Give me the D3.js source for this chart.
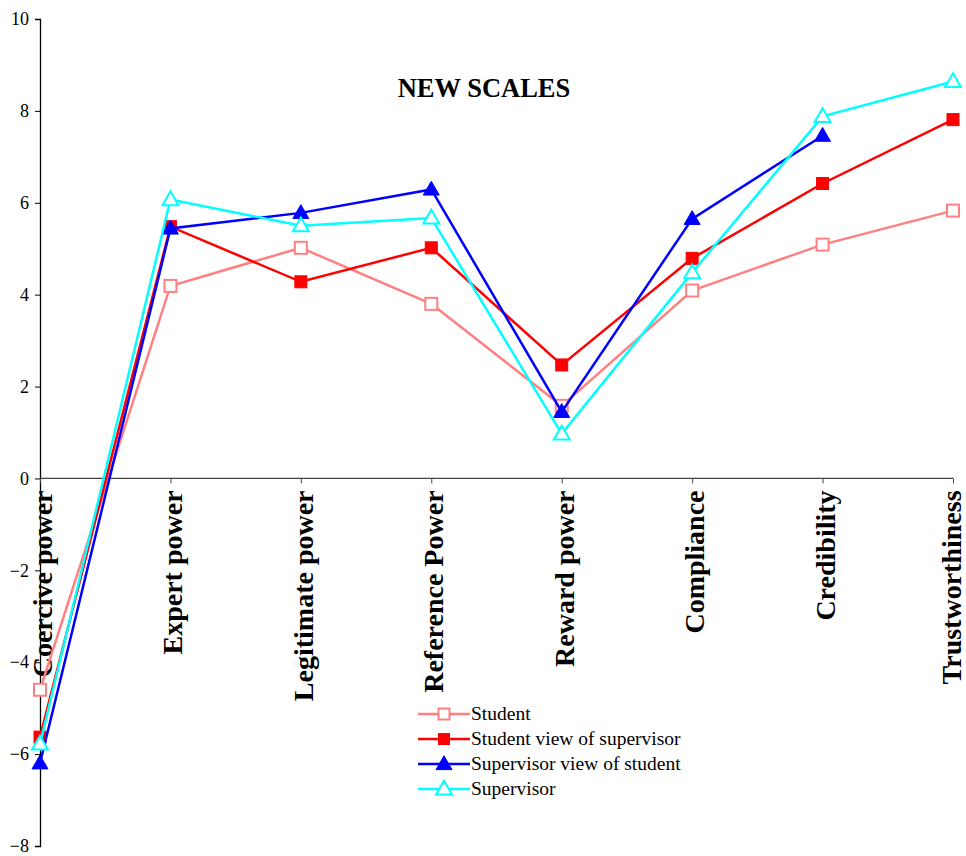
<!DOCTYPE html>
<html>
<head>
<meta charset="utf-8">
<script src="https://cdn.jsdelivr.net/npm/d3@7"></script>
<style>
  body { margin: 0; background: #fff; }
  svg { display: block; }
  svg text { font-family: "Liberation Serif", "Times New Roman", serif; }
</style>
</head>
<body>
<svg id="chart" width="966" height="856"></svg>
<script>
// Scale categories along the horizontal axis
const categories = ["Coercive power", "Expert power", "Legitimate power", "Reference Power",
                    "Reward power", "Compliance", "Credibility", "Trustworthiness"];

// Mean scores per respondent group (null = not reported)
const student            = [-4.6, 4.19, 5.02, 3.8, 1.58, 4.09, 5.09, 5.83];
const studentViewOfSup   = [-5.63, 5.48, 4.28, 5.02, 2.47, 4.79, 6.42, 7.81];
const supViewOfStudent   = [-6.2, 5.44, 5.78, 6.29, 1.45, 5.65, 7.46, null];
const supervisor         = [-5.78, 6.07, 5.5, 5.67, 0.97, 4.48, 7.88, 8.64];

const yTicks = [-8, -6, -4, -2, 0, 2, 4, 6, 8, 10];

const seriesNames = ["Student", "Student view of supervisor", "Supervisor view of student", "Supervisor"];

const series = [
  { name: seriesNames[0], values: student,          color: "#FF8080", marker: "square",   filled: false },
  { name: seriesNames[1], values: studentViewOfSup, color: "#FF0000", marker: "square",   filled: true },
  { name: seriesNames[2], values: supViewOfStudent, color: "#0000FF", marker: "triangle", filled: true },
  { name: seriesNames[3], values: supervisor,       color: "#00FFFF", marker: "triangle", filled: false }
];

const serif = '"Liberation Serif", "Times New Roman", serif';

const svg = d3.select("#chart");
const x0 = 40, x1 = 953;
const x = d3.scalePoint().domain(categories).range([x0, x1]);
const y = d3.scaleLinear().domain([-8, 10]).range([846, 19]);

// Vertical value axis
const yAxis = svg.append("g")
  .attr("transform", `translate(${x0},0)`)
  .call(d3.axisLeft(y).tickValues(yTicks).tickSize(5).tickPadding(6).tickFormat(d3.format("d")));
yAxis.attr("font-family", null).attr("font-size", null);
yAxis.select(".domain").attr("stroke", "#000").attr("stroke-width", 1.3);
yAxis.selectAll(".tick line").attr("stroke", "#000");
yAxis.selectAll(".tick text")
  .style("font-family", serif)
  .style("font-size", "18px").attr("fill", "#000");

// Horizontal category axis at zero
const xAxis = svg.append("g")
  .attr("transform", `translate(0,${y(0)})`)
  .call(d3.axisBottom(x).tickSize(5).tickFormat(""));
xAxis.select(".domain").attr("stroke", "#444").attr("stroke-width", 1.2)
  .attr("d", `M${x0},0H${x1}`);
xAxis.selectAll(".tick line").attr("stroke", "#444");

// Rotated category labels (kept inside the right edge)
svg.append("g").selectAll("text")
  .data(categories)
  .join("text")
  .attr("transform", d => `translate(${Math.min(x(d) + 12, 961)},${y(0) + 12}) rotate(-90)`)
  .attr("text-anchor", "end")
  .style("font-family", serif)
  .style("font-size", "28px")
  .style("font-weight", "bold")
  .attr("fill", "#000")
  .text(d => d);

// Title
svg.append("text")
  .attr("x", 484).attr("y", 97)
  .attr("text-anchor", "middle")
  .style("font-family", serif)
  .style("font-size", "26.5px").style("font-weight", "bold")
  .text("NEW SCALES");

const line = d3.line()
  .defined(d => d.v !== null)
  .x(d => x(d.c)).y(d => y(d.v));

const tri = d3.symbol().type(d3.symbolTriangle).size(110);

function drawMarker(g, s, px, py, size) {
  if (s.marker === "square") {
    const h = size / 2;
    g.append("rect")
      .attr("x", px - h).attr("y", py - h)
      .attr("width", size).attr("height", size)
      .attr("fill", s.filled ? s.color : "#fff")
      .attr("stroke", s.color).attr("stroke-width", s.filled ? 1 : 2);
  } else {
    g.append("path")
      .attr("d", tri())
      .attr("transform", `translate(${px},${py + 1})`)
      .attr("fill", s.filled ? s.color : "#fff")
      .attr("stroke", s.color).attr("stroke-width", s.filled ? 1 : 2);
  }
}

series.forEach(s => {
  const pts = categories.map((c, i) => ({ c, v: s.values[i] }));
  svg.append("path")
    .datum(pts)
    .attr("d", line)
    .attr("fill", "none")
    .attr("stroke", s.color)
    .attr("stroke-width", 2.5);
  const g = svg.append("g");
  pts.filter(p => p.v !== null).forEach(p => drawMarker(g, s, x(p.c), y(p.v), 12));
});

// Legend
const legend = svg.append("g").attr("transform", "translate(418,714)");
series.forEach((s, i) => {
  const row = legend.append("g").attr("transform", `translate(0,${i * 25})`);
  row.append("line").attr("x1", 0).attr("x2", 52).attr("y1", 0).attr("y2", 0)
    .attr("stroke", s.color).attr("stroke-width", 2.5);
  drawMarker(row, s, 26, 0, 11);
  row.append("text").attr("x", 53).attr("y", 6)
    .style("font-family", serif)
    .style("font-size", "19.5px").attr("fill", "#000").text(s.name);
});
</script>
</body>
</html>
